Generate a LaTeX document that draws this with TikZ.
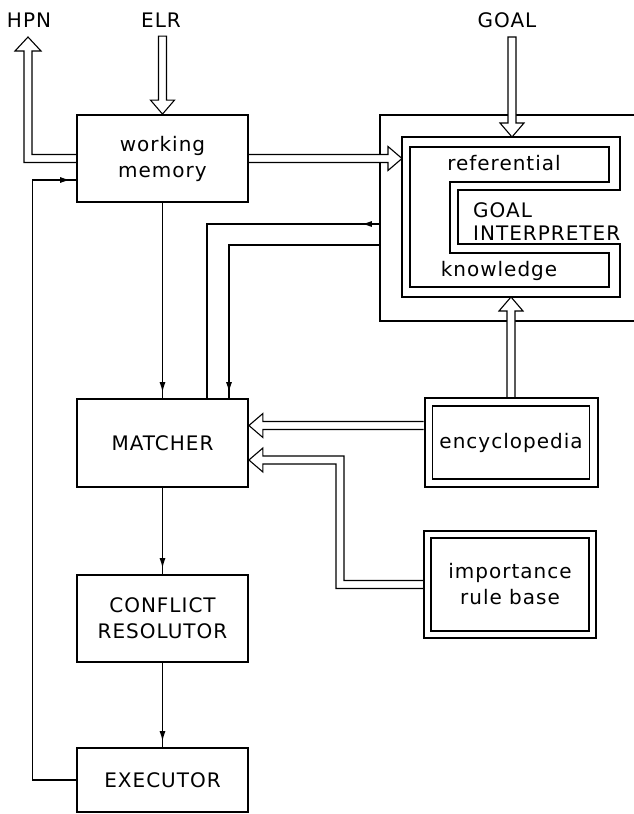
\documentclass[tikz,border=0pt]{standalone}
\usepackage{fontspec}
\newfontfamily\lettfont[LetterSpace=5]{DejaVu Sans}
\usetikzlibrary{arrows.meta,calc,decorations.markings}
\pgfdeclarelayer{bg}
\pgfdeclarelayer{fg}
\pgfsetlayers{bg,main,fg}
\begin{document}
\begin{tikzpicture}[x=1pt,y=-1pt,
  every node/.style={font=\lettfont\fontsize{20}{26}\selectfont, inner sep=0pt},
  blk/.style={draw, line width=1.8pt, minimum width=171pt, align=center},
  dbl/.style={draw, line width=2pt, align=center},
  conn/.style={line width=1.1pt},
  thinl/.style={line width=1.1pt},
  hollow/.style={draw, line width=1.1pt, fill=white, line join=miter},
  endarr/.style={postaction={decorate}, decoration={markings, mark=at position -6pt with {\arrow{Latex[length=10pt,width=6pt]}}}},
  startarr/.style={postaction={decorate}, decoration={markings, mark=at position 18pt with {\arrow{Latex[length=10pt,width=6pt]}}}}
]
\useasboundingbox (0,0) rectangle (634,814);

\begin{pgfonlayer}{fg}
% main column
\node[blk, minimum height=87pt] (wm) at (162.5,158.5) {working\\memory};
\node[blk, minimum height=88pt] (matcher) at (162.5,443) {MATCHER};
\node[blk, minimum height=87pt] (conflict) at (162.5,618.5) {CONFLICT\\RESOLUTOR};
\node[blk, minimum height=64pt] (executor) at (162.5,780) {EXECUTOR};

% knowledge bases
\node[dbl, minimum width=173pt, minimum height=89pt] (ency) at (511,442.5) {encyclopedia};
\draw[thinl] ($(ency.north west)+(9,9)$) rectangle ($(ency.south east)+(-9,-9)$);
\node[dbl, minimum width=172pt, minimum height=107pt] (irb) at (510,584.5) {importance\\rule base};
\draw[thinl] ($(irb.north west)+(8,8)$) rectangle ($(irb.south east)+(-8,-8)$);

% goal interpreter C-shape
\draw[thinl] (402,137) -- (620,137) -- (620,190) -- (458,190) -- (458,244) -- (620,244) -- (620,297) -- (402,297) -- cycle;
\draw[thinl] (410,147) -- (609,147) -- (609,182) -- (450,182) -- (450,253) -- (609,253) -- (609,287) -- (410,287) -- cycle;
\node (ref) at (504,163) {referential};
\node[anchor=west, align=left, font=\lettfont\fontsize{20}{23}\selectfont] (gi) at (473,221.5) {GOAL\\INTERPRETER};
\node (know) at (499,271) {knowledge};

% labels
\node (hpn) at (29,20) {HPN};
\node (elr) at (161,20) {ELR};
\node (goal) at (507,20) {GOAL};
\end{pgfonlayer}

% outer goal-interpreter frame
\node[minimum width=280pt, minimum height=206pt] (gibox) at (520,218) {};
\begin{pgfonlayer}{bg}
\draw[line width=1.8pt] (gibox.north east) -- (gibox.north west) -- (gibox.south west) -- (gibox.south east);
\end{pgfonlayer}

\coordinate (hpntip) at (28,37);
\coordinate (elrtail) at ($(wm.north)+(0,-78)$);
\coordinate (goaltail) at (512,37);
\coordinate (gitop) at (512,137);
\coordinate (gileft) at (402,158.5);
\coordinate (gibot) at (511,297);
\coordinate (encyout) at ($(ency.west)+(0,-17)$);
\coordinate (mtip1) at (matcher.east |- encyout);
\coordinate (mtip2) at ($(matcher.east)+(0,17)$);
\coordinate (irbturn) at (340,0);

% hollow arrows
\draw[hollow] ($(wm.west)+(0,4)$) -- ($(hpntip |- wm.west)+(-4,4)$) -- ($(hpntip)+(-4,14)$) -- ($(hpntip)+(-13,14)$) -- (hpntip) -- ($(hpntip)+(13,14)$) -- ($(hpntip)+(4,14)$) -- ($(hpntip |- wm.west)+(4,-4)$) -- ($(wm.west)+(0,-4)$);
\draw[hollow] ($(elrtail)+(-4,0)$) -- ($(wm.north)+(-4,-14)$) -- ($(wm.north)+(-12,-14)$) -- (wm.north) -- ($(wm.north)+(12,-14)$) -- ($(wm.north)+(4,-14)$) -- ($(elrtail)+(4,0)$) -- cycle;
\draw[hollow] ($(goaltail)+(-4,0)$) -- ($(gitop)+(-4,-14)$) -- ($(gitop)+(-12,-14)$) -- (gitop) -- ($(gitop)+(12,-14)$) -- ($(gitop)+(4,-14)$) -- ($(goaltail)+(4,0)$) -- cycle;
\draw[hollow] ($(wm.east)+(0,-4)$) -- ($(gileft)+(-14,-4)$) -- ($(gileft)+(-14,-12)$) -- (gileft) -- ($(gileft)+(-14,12)$) -- ($(gileft)+(-14,4)$) -- ($(wm.east)+(0,4)$);
\draw[hollow] ($(ency.north)+(-4,0)$) -- ($(gibot)+(-4,14)$) -- ($(gibot)+(-12,14)$) -- (gibot) -- ($(gibot)+(12,14)$) -- ($(gibot)+(4,14)$) -- ($(ency.north)+(4,0)$);
\draw[hollow] ($(encyout)+(0,-4)$) -- ($(mtip1)+(14,-4)$) -- ($(mtip1)+(14,-12)$) -- (mtip1) -- ($(mtip1)+(14,12)$) -- ($(mtip1)+(14,4)$) -- ($(encyout)+(0,4)$);
\draw[hollow] ($(irb.west)+(0,-4)$) -- ($(irbturn |- irb.west)+(4,-4)$) -- ($(irbturn |- mtip2)+(4,-4)$) -- ($(mtip2)+(14,-4)$) -- ($(mtip2)+(14,-12)$) -- (mtip2) -- ($(mtip2)+(14,12)$) -- ($(mtip2)+(14,4)$) -- ($(irbturn |- mtip2)+(-4,4)$) -- ($(irbturn |- irb.west)+(-4,4)$) -- ($(irb.west)+(0,4)$);

% single-line connectors
\draw[conn,endarr] (wm.south) -- (matcher.north);
\draw[conn,startarr] ($(gibox.west)+(0,6)$) -| ($(matcher.north)+(44.5,0)$);
\draw[conn,endarr] ($(gibox.west)+(0,27)$) -| ($(matcher.north)+(66.5,0)$);
\draw[conn,endarr] (matcher.south) -- (conflict.north);
\draw[conn,endarr] (conflict.south) -- (executor.north);
\draw[conn,endarr] (executor.west) -- ++(-44,0) |- ($(wm.west)+(0,21.5)$);
\end{tikzpicture}
\end{document}
